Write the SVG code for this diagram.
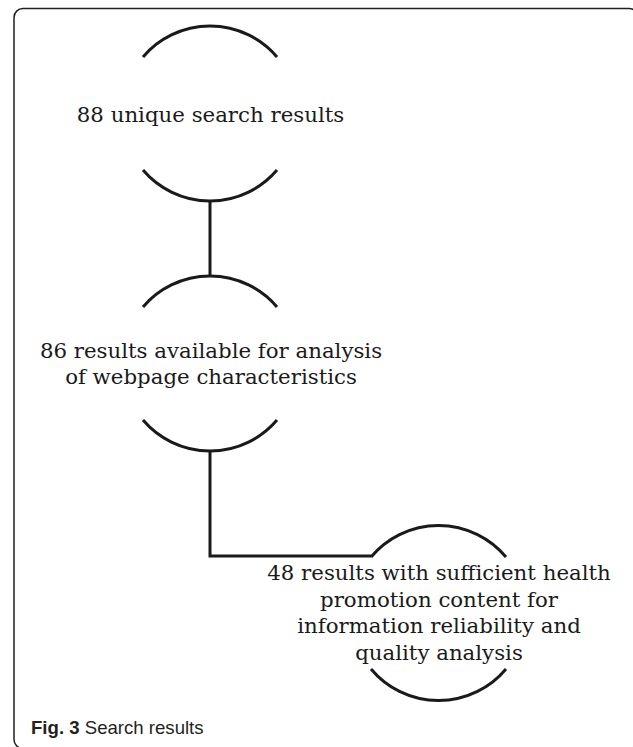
<svg xmlns="http://www.w3.org/2000/svg" width="633" height="747" viewBox="0 0 633 747">
<style>
.arc{fill:none;stroke:#1a1a1a;stroke-width:3;stroke-linecap:butt}
.conn{fill:none;stroke:#1a1a1a;stroke-width:3}
.lbl{font-family:"DejaVu Serif","Liberation Serif",serif;font-size:21.3px;fill:#1a1a1a;text-anchor:middle}
.cap{font-family:"Liberation Sans",Arial,sans-serif;font-size:18.6px;fill:#231f20}
</style>
<rect x="14" y="8.5" width="624" height="740" rx="9" ry="9" fill="#fff" stroke="#231f20" stroke-width="1.5"/>
<g id="connectors">
<path class="conn" d="M210,202 V275"/>
<path class="conn" d="M210,451 V556 H371"/>
</g>
<g id="node1">
<path class="arc" d="M143,57 A88,88 0 0 1 277,57"/>
<path class="arc" d="M143,170 A88,88 0 0 0 277,170"/>
<text class="lbl" x="210.5" y="121.5">88 unique search results</text>
</g>
<g id="node2">
<path class="arc" d="M143,307 A88,88 0 0 1 277,307"/>
<path class="arc" d="M143,420 A88,88 0 0 0 277,420"/>
<text class="lbl" x="211" y="357.5">86 results available for analysis</text>
<text class="lbl" x="211" y="384">of webpage characteristics</text>
</g>
<g id="node3">
<path class="arc" d="M371,557 A88,88 0 0 1 506,557"/>
<path class="arc" d="M371,669 A88,88 0 0 0 506,669"/>
<text class="lbl" x="439" y="580">48 results with sufficient health</text>
<text class="lbl" x="439" y="606.7">promotion content for</text>
<text class="lbl" x="439" y="633.3">information reliability and</text>
<text class="lbl" x="439" y="660">quality analysis</text>
</g>
<g id="caption">
<text class="cap" x="31" y="734"><tspan font-weight="bold">Fig. 3</tspan> Search results</text>
</g>
</svg>
